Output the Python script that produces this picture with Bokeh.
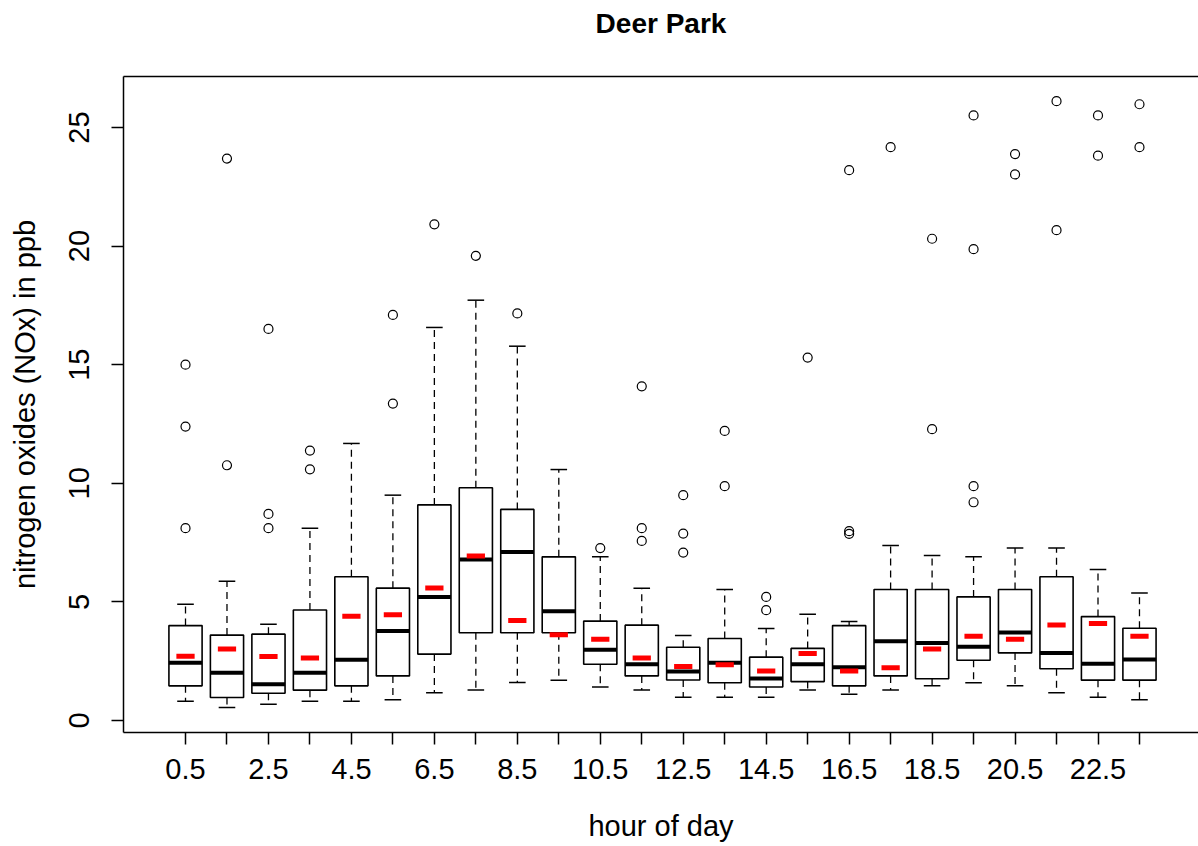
from bokeh.plotting import figure
from bokeh.models import Range1d, FixedTicker, ColumnDataSource, LinearAxis
from bokeh.embed import file_html
from bokeh.resources import INLINE

hours = [0.5, 1.5, 2.5, 3.5, 4.5, 5.5, 6.5, 7.5, 8.5, 9.5, 10.5, 11.5,
         12.5, 13.5, 14.5, 15.5, 16.5, 17.5, 18.5, 19.5, 20.5, 21.5, 22.5, 23.5]
lower_whisker = [0.81, 0.55, 0.69, 0.81, 0.81, 0.87, 1.17, 1.29, 1.60, 1.70, 1.41, 1.29,
                 0.98, 0.98, 0.98, 1.29, 1.11, 1.29, 1.46, 1.59, 1.46, 1.17, 0.98, 0.87]
q1 = [1.46, 0.97, 1.15, 1.28, 1.46, 1.88, 2.80, 3.70, 3.70, 3.70, 2.37, 1.88,
      1.71, 1.59, 1.41, 1.64, 1.46, 1.88, 1.76, 2.54, 2.85, 2.18, 1.70, 1.70]
median = [2.43, 2.01, 1.53, 2.01, 2.56, 3.77, 5.21, 6.79, 7.10, 4.61, 2.98, 2.37,
          2.07, 2.43, 1.77, 2.37, 2.25, 3.34, 3.27, 3.11, 3.71, 2.85, 2.39, 2.57]
q3 = [4.00, 3.60, 3.64, 4.66, 6.06, 5.58, 9.09, 9.81, 8.90, 6.90, 4.19, 4.02,
      3.09, 3.46, 2.67, 3.04, 4.00, 5.52, 5.52, 5.21, 5.52, 6.06, 4.38, 3.89]
upper_whisker = [4.90, 5.87, 4.06, 8.11, 11.68, 9.50, 16.57, 17.72, 15.78, 10.58, 6.90, 5.58,
                 3.58, 5.52, 3.88, 4.48, 4.17, 7.38, 6.96, 6.90, 7.27, 7.27, 6.37, 5.38]
means = [2.71, 3.01, 2.70, 2.64, 4.40, 4.46, 5.59, 6.94, 4.22, 3.61, 3.43, 2.64,
         2.28, 2.35, 2.09, 2.82, 2.09, 2.22, 3.01, 3.55, 3.43, 4.03, 4.09, 3.55]
outliers = [
    [15.0, 12.39, 8.11], [23.69, 10.76], [16.51, 8.71, 8.11], [11.38, 10.59],
    [], [17.10, 13.36], [20.92], [19.59], [17.16], [], [7.27], [14.09, 8.11, 7.57],
    [9.50, 7.88, 7.08], [12.21, 9.88], [5.21, 4.65], [15.30], [23.2, 7.98, 7.87],
    [24.17], [20.31, 12.28], [25.51, 19.87, 9.88, 9.20], [23.88, 23.02],
    [26.11, 20.67], [25.51, 23.81], [25.98, 24.17],
]
x_tick_labels = {h: (f"{h:g}" if i % 2 == 0 else "") for i, h in enumerate(hours)}
y_ticks = [0, 5, 10, 15, 20, 25]
title_text = "Deer Park"

FONT = "Liberation Sans"
BOX_W = 0.8
CAP_W = 0.4
MEAN_W = 0.44

src = ColumnDataSource(dict(
    x=hours, lo=lower_whisker, q1=q1, med=median, q3=q3, hi=upper_whisker, mean=means,
    xl=[h - BOX_W / 2 for h in hours], xr=[h + BOX_W / 2 for h in hours],
    cl=[h - CAP_W / 2 for h in hours], cr=[h + CAP_W / 2 for h in hours],
    ml=[h - MEAN_W / 2 for h in hours], mr=[h + MEAN_W / 2 for h in hours],
))
ox, oy = [], []
for h, vals in zip(hours, outliers):
    for v in vals:
        ox.append(h)
        oy.append(v)

X_LO, X_HI = -0.995, 24.923
Y_LO, Y_TOP = -0.506, 27.15
p = figure(width=1198, height=846, x_range=Range1d(X_LO, X_HI),
           y_range=Range1d(Y_LO, Y_TOP), output_backend="svg", toolbar_location=None,
           min_border_left=123, min_border_bottom=114, min_border_top=76, min_border_right=0)
p.title.visible = False
p.outline_line_color = None
p.xgrid.visible = False
p.ygrid.visible = False

bottom_axis = p.below[0]
left_axis = p.left[0]

# whiskers
p.segment(x0="x", y0="q3", x1="x", y1="hi", source=src, line_color="black",
          line_width=1.3, line_dash="7 5")
p.segment(x0="x", y0="q1", x1="x", y1="lo", source=src, line_color="black",
          line_width=1.3, line_dash="7 5")
# caps
p.segment(x0="cl", y0="hi", x1="cr", y1="hi", source=src, line_color="black", line_width=1.5)
p.segment(x0="cl", y0="lo", x1="cr", y1="lo", source=src, line_color="black", line_width=1.5)
# boxes
p.vbar(x="x", width=BOX_W, bottom="q1", top="q3", source=src, fill_color="white",
       line_color="black", line_width=1.6)
# medians
p.segment(x0="xl", y0="med", x1="xr", y1="med", source=src, line_color="black",
          line_width=4, line_cap="butt")
# means
p.segment(x0="ml", y0="mean", x1="mr", y1="mean", source=src, line_color="red",
          line_width=5, line_cap="butt")
# outliers
p.scatter(ox, oy, marker="circle", size=9, fill_color=None, line_color="black", line_width=1.2)

for ax in (bottom_axis, left_axis):
    ax.axis_line_color = "black"
    ax.axis_line_width = 1.5
    ax.major_tick_line_color = "black"
    ax.major_tick_line_width = 1.5
    ax.major_tick_out = 12
    ax.major_tick_in = 0
    ax.minor_tick_line_color = None
    ax.major_label_text_font = FONT
    ax.major_label_text_font_size = "29px"
    ax.major_label_text_color = "black"
    ax.axis_label_text_font = FONT
    ax.axis_label_text_font_size = "29px"
    ax.axis_label_text_font_style = "normal"
    ax.axis_label_text_color = "black"

bottom_axis.ticker = FixedTicker(ticks=hours)
bottom_axis.major_label_overrides = x_tick_labels
bottom_axis.axis_label = "hour of day"
bottom_axis.major_label_standoff = 14
bottom_axis.axis_label_standoff = 28

left_axis.ticker = FixedTicker(ticks=y_ticks)
left_axis.major_label_orientation = "vertical"
left_axis.axis_label = "nitrogen oxides (NOx) in ppb"
left_axis.major_label_standoff = 22
left_axis.axis_label_standoff = 26

# top border of the box, carrying the chart title as its label
top = LinearAxis(ticker=FixedTicker(ticks=[]), axis_label=title_text)
top.axis_line_color = "black"
top.axis_line_width = 1.5
top.major_tick_line_color = None
top.major_tick_out = 0
top.major_tick_in = 0
top.minor_tick_line_color = None
top.minor_tick_out = 0
top.major_label_text_font_size = "0px"
top.major_label_standoff = 0
top.axis_label_standoff = 38
top.axis_label_text_font = FONT
top.axis_label_text_font_size = "28px"
top.axis_label_text_font_style = "bold"
top.axis_label_text_color = "black"
p.add_layout(top, "above")

open("out.html", "w").write(file_html(p, INLINE))
